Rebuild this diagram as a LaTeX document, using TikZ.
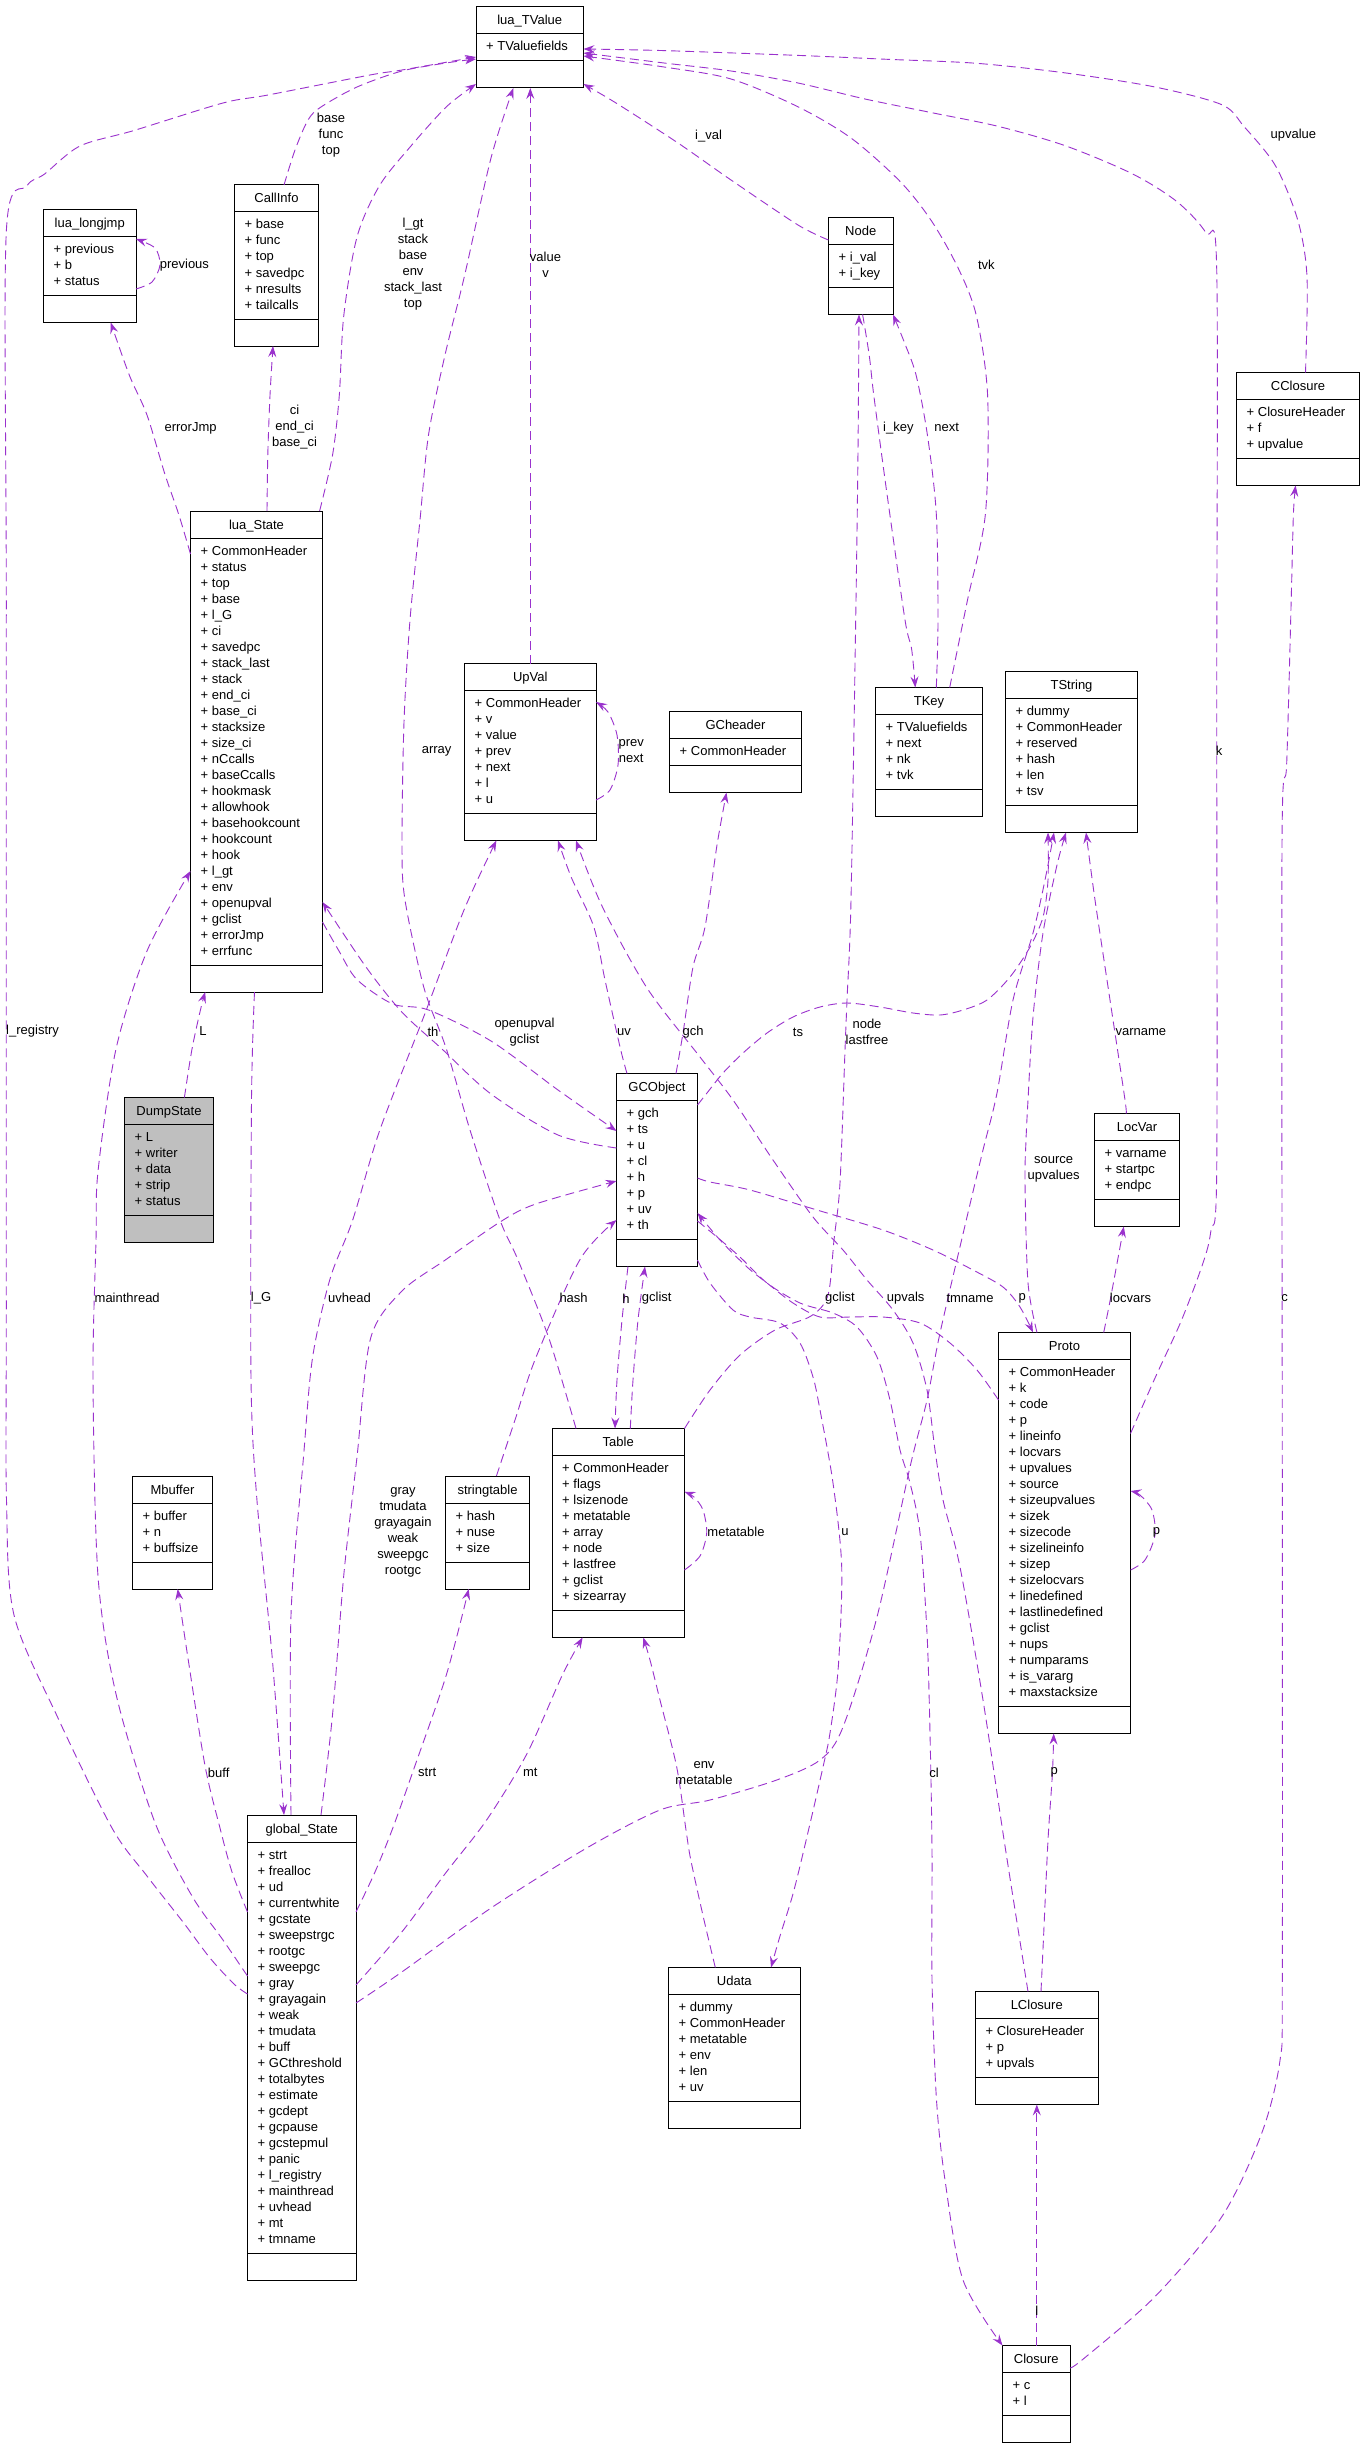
\documentclass[tikz,border=0pt]{standalone}
\usepackage{fontspec}
\setmainfont{Liberation Sans}
\usetikzlibrary{calc,arrows.meta}
\definecolor{edgec}{HTML}{9A32CD}
\definecolor{dumpfill}{HTML}{BFBFBF}
\tikzset{
 classbox/.style={draw=black, line width=1pt, inner sep=0pt, outer sep=0pt, rectangle},
 divline/.style={draw=black, line width=1pt},
 ttext/.style={inner sep=0pt, font=\fontsize{13}{16}\selectfont, anchor=base},
 ftext/.style={inner sep=0pt, font=\fontsize{13}{16}\selectfont, anchor=base west},
 lbl/.style={inner sep=0pt, font=\fontsize{13}{16}\selectfont, align=center},
 edge/.style={draw=edgec, line width=0.9pt, dash pattern=on 9pt off 5pt, -{Stealth[length=11pt,width=8pt,inset=4pt]}},
}
\newcommand{\umlclass}[8][white]{%
 \pgfmathsetmacro{\umlH}{65+16*#6}%
 \pgfmathsetmacro{\umlD}{38+16*#6}%
 \node[classbox, fill=#1, minimum width=#5pt, minimum height=\umlH pt, anchor=north west] (#2) at (#3,#4) {};
 \draw[divline] ($(#2.north west)+(0,27)$) -- ($(#2.north east)+(0,27)$);
 \draw[divline] ($(#2.north west)+(0,\umlD)$) -- ($(#2.north east)+(0,\umlD)$);
 \node[ttext] (#2-title) at ($(#2.north)+(0,18)$) {#7};
 \foreach \f [count=\i from 0] in {#8} {
   \node[ftext] (#2-f\i) at ($(#2.north west)+(10,{44+16*\i})$) {+ \f};
 }
}
\begin{document}
\begin{tikzpicture}[x=1pt,y=-1pt]
\fill[white] (0,0) rectangle (1364,2448);
\useasboundingbox (0,0) rectangle (1364,2448);

% ---------- classes ----------
\umlclass{luaTValue}{476}{7}{107.5}{1}{lua\_TValue}{TValuefields}
\umlclass{CallInfo}{234.5}{185}{84}{6}{CallInfo}{base,func,top,savedpc,nresults,tailcalls}
\umlclass{lualongjmp}{43.5}{209.5}{92.5}{3}{lua\_longjmp}{previous,b,status}
\umlclass{luaState}{190.5}{511}{132}{26}{lua\_State}{CommonHeader,status,top,base,l\_G,ci,savedpc,stack\_last,stack,end\_ci,base\_ci,stacksize,size\_ci,nCcalls,baseCcalls,hookmask,allowhook,basehookcount,hookcount,hook,l\_gt,env,openupval,gclist,errorJmp,errfunc}
\umlclass{UpVal}{464.5}{663.5}{131.5}{7}{UpVal}{CommonHeader,v,value,prev,next,l,u}
\umlclass[dumpfill]{DumpState}{124.5}{1097.5}{89}{5}{DumpState}{L,writer,data,strip,status}
\umlclass{GCObject}{616.5}{1073.5}{81}{8}{GCObject}{gch,ts,u,cl,h,p,uv,th}
\umlclass{GCheader}{669.5}{711.5}{132}{1}{GCheader}{CommonHeader}
\umlclass{TKey}{875.5}{687.5}{107}{4}{TKey}{TValuefields,next,nk,tvk}
\umlclass{TString}{1005.5}{671.5}{132}{6}{TString}{dummy,CommonHeader,reserved,hash,len,tsv}
\umlclass{LocVar}{1094.5}{1113.5}{85}{3}{LocVar}{varname,startpc,endpc}
\umlclass{Node}{828.5}{217.5}{64.5}{2}{Node}{i\_val,i\_key}
\umlclass{CClosure}{1236.5}{372.5}{123}{3}{CClosure}{ClosureHeader,f,upvalue}
\umlclass{Proto}{998.5}{1332.5}{132}{21}{Proto}{CommonHeader,k,code,p,lineinfo,locvars,upvalues,source,sizeupvalues,sizek,sizecode,sizelineinfo,sizep,sizelocvars,linedefined,lastlinedefined,gclist,nups,numparams,is\_vararg,maxstacksize}
\umlclass{Table}{552}{1428.5}{132.5}{9}{Table}{CommonHeader,flags,lsizenode,metatable,array,node,lastfree,gclist,sizearray}
\umlclass{stringtable}{445.5}{1476}{84}{3}{stringtable}{hash,nuse,size}
\umlclass{Mbuffer}{132.5}{1476}{80}{3}{Mbuffer}{buffer,n,buffsize}
\umlclass{globalState}{247.5}{1815}{108.5}{25}{global\_State}{strt,frealloc,ud,currentwhite,gcstate,sweepstrgc,rootgc,sweepgc,gray,grayagain,weak,tmudata,buff,GCthreshold,totalbytes,estimate,gcdept,gcpause,gcstepmul,panic,l\_registry,mainthread,uvhead,mt,tmname}
\umlclass{Udata}{668.5}{1967.5}{131.5}{6}{Udata}{dummy,CommonHeader,metatable,env,len,uv}
\umlclass{LClosure}{975.5}{1991.5}{122.5}{3}{LClosure}{ClosureHeader,p,upvals}
\umlclass{Closure}{1002.5}{2345.5}{67.5}{2}{Closure}{c,l}

% ---------- connectors ----------
% base func top
\draw[edge] plot[smooth] coordinates {(CallInfo.north -| 284,0) (295,150) (308,120) (321,107) (357,87) (402,71) (446,63) (luaTValue.west |- 0,59)};
% previous
\draw[edge] plot[smooth] coordinates {(lualongjmp.east |- 0,289) (152,282) (160,265) (155,248) (lualongjmp.east |- 0,239)};
% errorJmp
\draw[edge] plot[smooth] coordinates {(luaState.west |- 0,554) (178.6,514) (165,474.5) (147,415) (129.5,375.6) (lualongjmp.south -| 110.7,0)};
% ci end_ci base_ci
\draw[edge] plot[smooth] coordinates {(luaState.north -| 267,0) (267.8,454.7) (270,395.4) (CallInfo.south -| 273,0)};
% l_gt ... top
\draw[edge] plot[smooth] coordinates {(luaState.north -| 319.6,0) (332.6,454.7) (339.3,395.4) (343.7,316.3) (357,237) (379.4,185.8) (410.7,146.3) (446.4,106.8) (luaTValue.west |- 0,84)};
% l_registry
\draw[edge] plot[smooth] coordinates {(globalState.west |- 0,1994) (234,1984) (210,1958) (183,1922) (147,1876) (112,1828) (58,1718) (14,1615) (6.5,1500) (6.3,1300) (6.3,600) (6.3,232) (26.8,186) (44.6,174) (80,146) (134,130.5) (223,103) (268,95) (370,75) (402,70) (luaTValue.west |- 0,57)};
% mainthread
\draw[edge] plot[smooth] coordinates {(globalState.west |- 0,1976) (223,1940) (192,1896) (154,1820) (116,1694) (98,1576) (93,1378) (96,1240) (98,1171.5) (116,1049) (147,951) (luaState.west |- 0,871)};
% buff
\draw[edge] plot[smooth] coordinates {(globalState.west |- 0,1912) (232,1872) (220,1828) (205,1765.6) (187.5,1655) (Mbuffer.south -| 177.7,0)};
% l_G
\draw[edge] plot[smooth] coordinates {(luaState.south -| 254.5,0) (251.5,1100) (251,1378) (256.7,1497) (272,1655) (globalState.north -| 284,0)};
% uvhead
\draw[edge] plot[smooth] coordinates {(globalState.north -| 291,0) (291,1615) (303.5,1457) (312.5,1358) (330,1279) (352.7,1220) (379.5,1131) (424,1016) (464,910) (UpVal.south -| 496.4,0)};
% gray ... rootgc
\draw[edge] plot[smooth] coordinates {(globalState.north -| 321,0) (332.6,1714) (343.7,1576) (357,1457) (370.5,1338.6) (402,1291) (446,1259.5) (500,1222) (535.7,1204) (GCObject.west |- 0,1181)};
% hash
\draw[edge] plot[smooth] coordinates {(stringtable.north -| 496.4,0) (515,1420) (535.7,1358) (580,1259.5) (GCObject.west |- 0,1220)};
% openupval gclist
\draw[edge] plot[smooth] coordinates {(luaState.east |- 0,922) (339,951) (357,979.6) (392.8,1004) (428.6,1010) (491,1041) (558,1090) (GCObject.west |- 0,1131)};
% th
\draw[edge] plot[smooth] coordinates {(GCObject.west |- 0,1148) (558,1135) (491,1094) (442,1049) (401.8,1012) (366,967) (luaState.east |- 0,902)};
% uv
\draw[edge] plot[smooth] coordinates {(GCObject.north -| 627,0) (620.5,1049) (605,980) (593.7,926.6) (571.4,877.6) (UpVal.south -| 558,0)};
% upvals
\draw[edge] plot[smooth] coordinates {(LClosure.north -| 1028,0) (1016.6,1920) (1003,1833) (983,1700) (960,1567) (943,1500) (935,1450) (927,1390) (913,1343) (893,1310) (867,1280) (843,1250) (813,1217) (773,1160) (733,1100) (700,1057) (647,988) (602,906) (UpVal.south -| 576,0)};
% gch
\draw[edge] plot[smooth] coordinates {(GCObject.north -| 676,0) (683,1033) (693,967) (705,927) (717,845) (GCheader.south -| 726.5,0)};
% ts
\draw[edge] plot[smooth] coordinates {(GCObject.east |- 0,1105) (707,1093) (723,1073) (743,1053) (767,1033) (793,1017) (820,1007) (847,1003) (880,1007) (913,1013) (940,1015) (963,1010) (987,1000) (1010,977) (1030,947) (1043,917) (1048,880) (TString.south -| 1048,0)};
% node lastfree
\draw[edge] plot[smooth] coordinates {(Table.north east) (710,1390) (740,1355) (775,1330) (811,1316) (828,1295) (834,1240) (840,1183) (845,1050) (847,1000) (851,900) (856,600) (858,450) (Node.south -| 859,0)};
% i_key
\draw[edge] plot[smooth] coordinates {(Node.south -| 862.6,0) (869.3,355.8) (873.8,395.4) (887,494) (905,620) (911.6,649) (TKey.north -| 915.3,0)};
% next
\draw[edge] plot[smooth] coordinates {(TKey.north -| 936.3,0) (938,620) (936.3,514) (927.4,435) (916.2,375.6) (905,344) (Node.south east)};
% tvk
\draw[edge] plot[smooth] coordinates {(TKey.north -| 949.7,0) (967.5,600) (985.4,514) (987.6,395.4) (976.5,316.3) (958.6,269) (931.8,221.4) (900.6,182) (851.5,138.4) (798,106.8) (731,79) (664,67) (luaTValue.east |- 0,56)};
% i_val
\draw[edge] plot[smooth] coordinates {(Node.west |- 0,240) (798,225) (731,180) (678,143) (616,103) (luaTValue.east |- 0,84)};
% upvalue
\draw[edge] plot[smooth] coordinates {(CClosure.north -| 1305.5,0) (1307,277) (1298,221) (1275.6,166) (1244,126.5) (1222,104.8) (1155,87) (1066,73) (976.5,63.3) (887,59.3) (798,55.4) (664,50.6) (luaTValue.east |- 0,49)};
% k
\draw[edge] plot[smooth] coordinates {(Proto.east |- 0,1433.5) (1155,1378) (1182,1319) (1204,1260) (1211,1230) (1216.7,1171.5) (1216.7,700) (1216.7,269) (1206,233) (1177,201.7) (1132.7,174) (1066,146) (998.8,126.5) (931.8,112.7) (865,99) (798,83) (731,71) (664,63) (luaTValue.east |- 0,53)};
% value v
\draw[edge] (UpVal.north -| 530.3,0) -- (luaTValue.south -| 530.3,0);
% array
\draw[edge] plot[smooth] coordinates {(Table.north -| 576,0) (549,1338.6) (517.8,1259.5) (500,1220) (470,1130) (446.4,1049) (424,988) (405,900) (402,845) (404,722) (410,620) (420,520) (428.5,435) (445,355) (464.3,276.8) (491,158) (luaTValue.south -| 513.4,0)};
% prev next
\draw[edge] plot[smooth] coordinates {(UpVal.east |- 0,800) (610,790) (618,765) (617,735) (608,712) (UpVal.east |- 0,702)};
% L
\draw[edge] plot[smooth] coordinates {(DumpState.north -| 184.4,0) (192,1049) (200.9,1008) (luaState.south -| 205.3,0)};
% gclist Table
\draw[edge] plot[smooth] coordinates {(Table.north -| 630.3,0) (633,1380) (638,1320) (GCObject.south -| 645,0)};
% h
\draw[edge] plot[smooth] coordinates {(GCObject.south -| 628,0) (622,1320) (617,1380) (Table.north -| 615,0)};
% gclist Proto
\draw[edge] plot[smooth] coordinates {(Proto.west |- 0,1400) (977,1370) (950,1343) (920,1323) (883,1317) (850,1317) (820,1317) (793,1303) (767,1283) (747,1267) (720,1240) (GCObject.east |- 0,1213)};
% p (GCObject -> Proto)
\draw[edge] plot[smooth] coordinates {(GCObject.east |- 0,1178) (710,1182) (750,1190) (817,1210) (883,1230) (933,1250) (973,1270) (1003,1287) (1020,1307) (Proto.north -| 1033,0)};
% cl
\draw[edge] plot[smooth] coordinates {(GCObject.east |- 0,1221) (717,1237) (740,1257) (767,1283) (800,1303) (833,1313) (857,1327) (877,1357) (890,1400) (900,1450) (910,1483) (920,1533) (927,1633) (930,1733) (932,1850) (932,1980) (936.5,2100) (945,2180) (963,2280) (Closure.north west)};
% u
\draw[edge] plot[smooth] coordinates {(GCObject.east |- 0,1260) (710,1283) (733,1310) (750,1317) (780,1323) (800,1343) (813,1377) (820,1410) (833,1483) (841.7,1567) (838.3,1667) (830,1733) (823,1767) (809,1828) (793.5,1892) (780,1936) (Udata.north -| 771,0)};
% env metatable
\draw[edge] plot[smooth] coordinates {(Udata.north -| 715.3,0) (704,1920) (690.8,1860) (686,1830) (676.7,1767) (660,1700) (650,1660) (Table.south -| 643.3,0)};
% strt
\draw[edge] plot[smooth] coordinates {(globalState.east |- 0,1912) (375,1872) (392.8,1828) (415,1765.6) (446.4,1674.7) (stringtable.south -| 468.7,0)};
% mt
\draw[edge] plot[smooth] coordinates {(globalState.east |- 0,1985) (401.8,1932) (446.4,1872) (486.6,1820) (526.8,1754) (562.5,1674.7) (Table.south -| 582.6,0)};
% tmname
\draw[edge] plot[smooth] coordinates {(globalState.east |- 0,2003) (401.8,1972) (491,1908) (586.7,1848) (660,1810) (710,1800) (776.7,1780) (820,1760) (843,1727) (877,1617) (910,1467) (927,1400) (940,1333) (967,1217) (983,1150) (997,1093) (1013,1000) (1033,933) (1045,880) (TString.south -| 1054,0)};
% source upvalues
\draw[edge] plot[smooth] coordinates {(Proto.north -| 1037,0) (1028,1283) (1025,1183) (1026,1140) (1028,1100) (1033,1017) (1043,933) (1057,865) (TString.south -| 1066,0)};
% varname
\draw[edge] plot[smooth] coordinates {(LocVar.north -| 1126,0) (1125,1100) (1110,1000) (1095,900) (TString.south -| 1086,0)};
% locvars
\draw[edge] plot[smooth] coordinates {(Proto.north -| 1103.7,0) (1110.4,1299) (LocVar.south -| 1123.8,0)};
% p (Proto self)
\draw[edge] plot[smooth] coordinates {(Proto.east |- 0,1570) (1145,1560) (1155,1535) (1152,1510) (1140,1495) (Proto.east |- 0,1491)};
% metatable (Table self)
\draw[edge] plot[smooth] coordinates {(Table.east |- 0,1570) (700,1556) (706.7,1533) (703,1510) (694,1497) (Table.east |- 0,1491.7)};
% p (LClosure -> Proto)
\draw[edge] plot[smooth] coordinates {(LClosure.north -| 1041,0) (1043.4,1940) (1048,1840) (1052.4,1773.6) (Proto.south -| 1053.7,0)};
% l
\draw[edge] (Closure.north -| 1036.8,0) -- (LClosure.south -| 1036.8,0);
% c
\draw[edge] plot[smooth] coordinates {(Closure.east |- 0,2368) (1083.6,2358.7) (1155,2296.6) (1222,2216.5) (1262,2132.4) (1280,2060.3) (1282.3,1980) (1282.3,1500) (1282,845) (1286.7,763) (1291.2,600) (1293.4,514) (CClosure.south -| 1295.6,0)};

% ---------- labels ----------
\node[lbl] (l1) at (331,135.5) {base\\func\\top};
\node[lbl] (l2) at (184.4,265) {previous};
\node[lbl] (l3) at (190.6,428.2) {errorJmp};
\node[lbl] (l4) at (294.6,427.5) {ci\\end\_ci\\base\_ci};
\node[lbl] (l5) at (413,264.5) {l\_gt\\stack\\base\\env\\stack\_last\\top};
\node[lbl] (l6) at (545.5,265) {value\\v};
\node[lbl] (l7) at (708.6,135.6) {i\_val};
\node[lbl] (l8) at (1293.4,135.6) {upvalue};
\node[lbl] (l9) at (986.3,264.5) {tvk};
\node[lbl] (l10) at (898.4,427.8) {i\_key};
\node[lbl] (l11) at (946.6,427.8) {next};
\node[lbl] (l12) at (1219,751) {k};
\node[lbl] (l13) at (436.6,751) {array};
\node[lbl] (l14) at (631.2,751) {prev\\next};
\node[lbl] (l15) at (32.6,1031.5) {l\_registry};
\node[lbl] (l16) at (203,1031.5) {L};
\node[lbl] (l17) at (433,1031.9) {th};
\node[lbl] (l18) at (524.5,1032) {openupval\\gclist};
\node[lbl] (l19) at (624,1031.9) {uv};
\node[lbl] (l20) at (693,1031.9) {gch};
\node[lbl] (l21) at (798,1031.9) {ts};
\node[lbl] (l22) at (867,1031.7) {node\\lastfree};
\node[lbl] (l23) at (1140.8,1031.9) {varname};
\node[lbl] (l24) at (1053.7,1169) {source\\upvalues};
\node[lbl] (l25) at (127.2,1298.3) {mainthread};
\node[lbl] (l26) at (261,1298.3) {l\_G};
\node[lbl] (l27) at (349.5,1298.3) {uvhead};
\node[lbl] (l28) at (573.6,1298.3) {hash};
\node[lbl] (l29) at (626,1298.3) {h};
\node[lbl] (l30) at (656.7,1298.3) {gclist};
\node[lbl] (l31) at (840,1298.3) {gclist};
\node[lbl] (l32) at (905.7,1298.3) {upvals};
\node[lbl] (l33) at (970,1298.3) {tmname};
\node[lbl] (l34) at (1022.3,1298.3) {p};
\node[lbl] (l35) at (1130.5,1298.3) {locvars};
\node[lbl] (l36) at (1284.5,1298.3) {c};
\node[lbl] (l37) at (403,1532) {gray\\tmudata\\grayagain\\weak\\sweepgc\\rootgc};
\node[lbl] (l38) at (736,1531.7) {metatable};
\node[lbl] (l39) at (845,1531.7) {u};
\node[lbl] (l40) at (1156.4,1532.4) {p};
\node[lbl] (l41) at (218.7,1772.4) {buff};
\node[lbl] (l42) at (427.2,1772.4) {strt};
\node[lbl] (l43) at (530.3,1772.4) {mt};
\node[lbl] (l44) at (704,1773) {env\\metatable};
\node[lbl] (l45) at (934,1772.7) {cl};
\node[lbl] (l46) at (1054.3,1772.7) {p};
\node[lbl] (l47) at (1036.8,2310.6) {l};
\end{tikzpicture}
\end{document}
